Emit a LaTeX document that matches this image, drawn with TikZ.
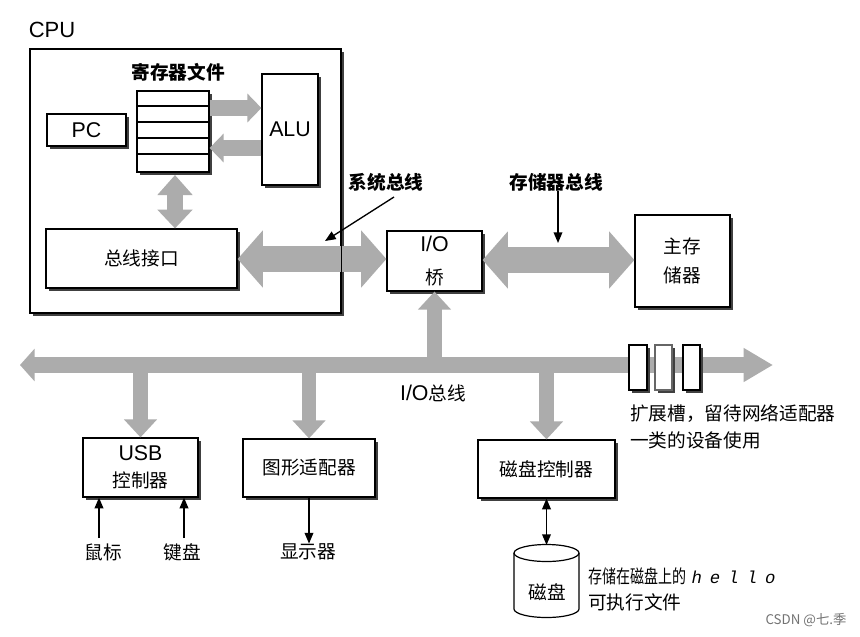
\documentclass[tikz,border=0pt]{standalone}
\usepackage{fontspec}
\setmainfont{Liberation Sans}
\newfontfamily\cjk{Noto Sans CJK SC}
\newfontfamily\cjknarrow[FakeStretch=0.75]{Noto Sans CJK SC}
\newfontfamily\monofont{Liberation Mono}
\usetikzlibrary{arrows.meta,shadows}
\definecolor{arrowgray}{RGB}{172,172,172}
\newcommand\zht[1]{{\cjk\fontsize{14}{17}\selectfont #1}}
\tikzset{
  box/.style={draw=black, line width=0.9pt, fill=white, inner sep=0pt,
    drop shadow={shadow xshift=2pt, shadow yshift=-2pt, fill=black!75, opacity=1}},
  lat/.style={font=\fontsize{16}{19}\selectfont, inner sep=0pt, align=center},
  zh/.style={font=\cjk\fontsize{14}{17}\selectfont, inner sep=0pt, align=center},
  zhb/.style={font=\cjk\bfseries\fontsize{14}{17}\selectfont, inner sep=0pt},
  busarrow/.style={draw=arrowgray, line width=20pt,
    {Triangle[length=19pt,width=42pt]}-{Triangle[length=19pt,width=42pt]}},
  ioarrow/.style={draw=arrowgray, line width=11pt, -{Triangle[length=13.5pt,width=24pt]}},
  iobus/.style={draw=arrowgray, line width=11.5pt,
    {Triangle[length=11pt,width=24pt]}-{Triangle[length=22pt,width=24pt]}},
  regarrow/.style={draw=arrowgray, line width=12.5pt, -{Triangle[length=10.5pt,width=21pt]}},
  regdouble/.style={draw=arrowgray, line width=12pt,
    {Triangle[length=15pt,width=25.5pt]}-{Triangle[length=14pt,width=25.5pt]}},
  thinarrow/.style={draw=black, line width=1pt, -{Triangle[length=8pt,width=6.5pt]}},
  thindouble/.style={draw=black, line width=1pt,
    {Triangle[length=8pt,width=6.5pt]}-{Triangle[length=8pt,width=6.5pt]}},
}
\begin{document}
\begin{tikzpicture}[x=0.75pt,y=-0.75pt]
\useasboundingbox[fill=white] (0,0) rectangle (860,636);

% CPU
\node[lat, font=\fontsize{16.5}{19}\selectfont] (cpul) at (52,30) {CPU};
\node[box, minimum width=233.25pt, minimum height=198pt] (cpu) at (185.5,181) {};

\node[zhb] (regl) at (178,72) {寄存器文件};
\node[box, minimum width=54pt, minimum height=60.75pt] (reg) at (173,131.5) {};
\foreach \yy in {106,122,138,154} \draw[line width=0.8pt] (reg.west |- 0,\yy) -- (reg.east |- 0,\yy);
\node[box, lat, minimum width=59.25pt, minimum height=24pt] (pc) at (86.5,130) {PC};
\node[box, lat, minimum width=42pt, minimum height=83.25pt] (alu) at (290,129.5) {ALU};
\node[box, zh, minimum width=143.25pt, minimum height=44.25pt] (bif) at (141.5,258.5) {总线接口};

\coordinate (ra1) at (0,108);
\coordinate (ra2) at (0,148);
\draw[regarrow] (reg.east |- ra1) -- (alu.west |- ra1);
\draw[regarrow] (alu.west |- ra2) -- (reg.east |- ra2);
\coordinate (rtop) at (175,175);
\draw[regdouble] (rtop) -- (rtop |- bif.north);

% bridge and memory
\node[box, lat, minimum width=71.25pt, minimum height=45pt] (bridge) at (434.5,261) {I/O\\[6pt]\zht{桥}};
\node[box, zh, minimum width=71.25pt, minimum height=69pt] (mem) at (682.5,261) {主存\\[5pt]储器};

\coordinate (sb) at (0,259);
\coordinate (mb) at (0,260);
\draw[busarrow] (bif.east |- sb) -- (bridge.west |- sb);
\draw[line width=0.9pt] (cpu.north east) -- (cpu.south east);
\draw[busarrow] (bridge.east |- mb) -- (mem.west |- mb);

\node[zhb] (sbl) at (386,182) {系统总线};
\coordinate (sbs) at (394,197);
\coordinate (sbt) at (325,241);
\draw[thinarrow] (sbs) -- (sbt);
\node[zhb] (mbl) at (556,182) {存储器总线};
\coordinate (mbt) at (558,243);
\draw[thinarrow] (mbl.south -| mbt) -- (mbt);

% I/O bus
\coordinate (busL) at (20,365);
\coordinate (busR) at (773,365);
\draw[iobus] (busL) -- (busR);
\node[lat] (iobl) at (433,393) {I/O\zht{总线}};

\node[box, lat, minimum width=86.25pt, minimum height=44.25pt] (usb) at (140.5,467.5) {USB\\[1pt]\zht{控制器}};
\node[box, zh, minimum width=99pt, minimum height=43.5pt] (gfx) at (309,468) {图形适配器};
\node[box, zh, minimum width=102.75pt, minimum height=43.5pt] (dc) at (546.5,469) {磁盘控制器};

\coordinate (b0) at (434.5,365);
\coordinate (b1) at (140.5,365);
\coordinate (b2) at (309,365);
\coordinate (b3) at (546.5,365);
\draw[ioarrow] (b0) -- (bridge.south);
\draw[ioarrow] (b1) -- (usb.north);
\draw[ioarrow] (b2) -- (gfx.north);
\draw[ioarrow] (b3) -- (dc.north);

% expansion slots
\node[box, minimum width=13.5pt, minimum height=33.75pt] (s1) at (638,367.5) {};
\node[box, draw=black!60, minimum width=12.75pt, minimum height=33.75pt] (s2) at (663.5,367.5) {};
\node[box, minimum width=12.75pt, minimum height=33.75pt] (s3) at (691.5,367.5) {};
\node[zh, anchor=west, align=left] (slotl) at (630,427) {扩展槽，留待网络适配器\\[3pt]一类的设备使用};

% peripherals
\node[zh] (mouse) at (103,552) {鼠标};
\node[zh] (kbd) at (182,552) {键盘};
\node[zh] (disp) at (308,552) {显示器};
\coordinate (ms) at (99,538);
\coordinate (kb) at (184,538);
\draw[thinarrow] (ms) -- (ms |- usb.south);
\draw[thinarrow] (kb) -- (kb |- usb.south);
\draw[thinarrow] (gfx.south) -- (gfx.south |- disp.north);

% disk
\coordinate (dtop) at (546.5,545);
\draw[thindouble] (dc.south) -- (dtop);
\draw[line width=0.9pt, fill=white] (514,553) -- (514,609)
  arc[start angle=180, end angle=360, x radius=24.375pt, y radius=6.375pt] -- (579,553)
  arc[start angle=0, end angle=180, x radius=24.375pt, y radius=6.375pt] -- cycle;
\draw[line width=0.9pt] (514,553) arc[start angle=180, end angle=360, x radius=24.375pt, y radius=6.375pt];
\node[zh] (disk) at (547,592) {磁盘};
\node[anchor=west, inner sep=0pt] (diskl1) at (588,576)
  {{\cjknarrow\fontsize{14}{17}\selectfont 存储在磁盘上的}\hspace{4pt}{\monofont\itshape\fontsize{13}{15}\selectfont h\hspace{6pt}e\hspace{6pt}l\hspace{6pt}l\hspace{6pt}o}};
\node[zh, anchor=west] (diskl2) at (588,602) {可执行文件};

\node[font=\cjk\fontsize{10}{12}\selectfont, text=black!55, inner sep=0pt] (wm) at (806,620) {CSDN @七.季};
\end{tikzpicture}
\end{document}
